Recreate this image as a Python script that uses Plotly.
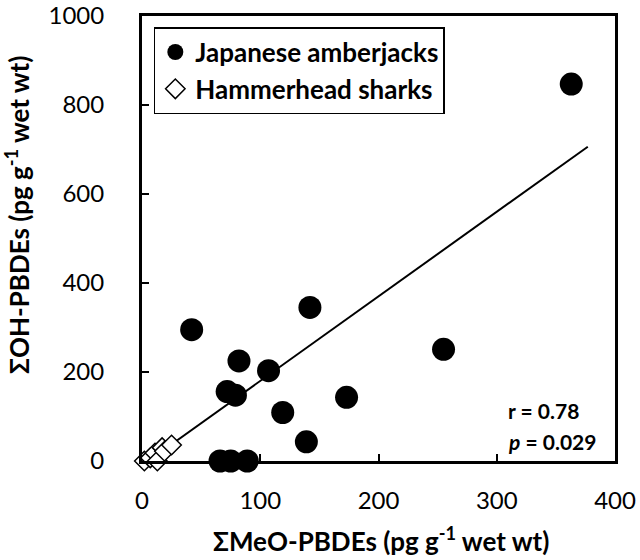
import plotly.graph_objects as go

# Japanese amberjacks
amber_x = [42, 142, 82, 107, 72, 79, 119, 139, 173, 255, 363, 66, 75, 89]
amber_y = [295, 345, 225, 203, 156, 148, 109, 43, 143, 251, 847, 0, 0, 0]

# Hammerhead sharks
shark_x = [2, 7, 11, 13, 17, 19, 25]
shark_y = [0, 7, 18, 0, 30, 22, 36]

# regression line
fit_slope = 1.90
fit_intercept = -10
fit_x = [5, 377]
fit_y = [fit_slope * v + fit_intercept for v in fit_x]

x_ticks = [0, 100, 200, 300, 400]
y_ticks = [0, 200, 400, 600, 800, 1000]

x_title = "<b>ΣMeO-PBDEs (pg g<sup>-1</sup> wet wt)</b>"
y_title = "<b>ΣOH-PBDEs (pg g<sup>-1</sup> wet wt)</b>"

FONT = "Lato"

fig = go.Figure()
fig.add_trace(go.Scatter(x=fit_x, y=fit_y, mode="lines",
                         line=dict(color="black", width=2), showlegend=False,
                         hoverinfo="skip"))
fig.add_trace(go.Scatter(x=amber_x, y=amber_y, mode="markers",
                         name="Japanese amberjacks", cliponaxis=False,
                         marker=dict(symbol="circle", size=23, color="black")))
fig.add_trace(go.Scatter(x=shark_x, y=shark_y, mode="markers",
                         name="Hammerhead sharks", cliponaxis=False,
                         marker=dict(symbol="diamond", size=15, color="white",
                                     line=dict(color="black", width=1.5))))

fig.add_annotation(x=0.770, y=0.0815, xref="paper", yref="paper",
                   text="<b>r = 0.78</b>", showarrow=False, xanchor="left",
                   font=dict(family=FONT, size=21, color="black"))
fig.add_annotation(x=0.770, y=0.011, xref="paper", yref="paper",
                   text="<b><i>p</i> = 0.029</b>", showarrow=False, xanchor="left",
                   font=dict(family=FONT, size=21, color="black"))

# axis titles
fig.add_annotation(x=0.505, y=-0.176, xref="paper", yref="paper",
                   text=x_title, showarrow=False, xanchor="center", yanchor="middle",
                   font=dict(family=FONT, size=26, color="black"))
fig.add_annotation(x=-0.262, y=0.553, xref="paper", yref="paper",
                   text=y_title, showarrow=False, textangle=-90,
                   xanchor="center", yanchor="middle",
                   font=dict(family=FONT, size=26, color="black"))

fig.update_layout(
    width=640, height=560,
    margin=dict(l=142, r=25, t=16, b=99),
    plot_bgcolor="white", paper_bgcolor="white",
    font=dict(family=FONT, color="black"),
    legend=dict(x=0.025, y=0.975, xanchor="left", yanchor="top",
                bordercolor="black", borderwidth=1.5, bgcolor="white",
                font=dict(family=FONT, size=26, color="black", weight="bold"),
                itemsizing="trace"),
    xaxis=dict(range=[0, 400], tickvals=x_ticks, ticks="inside", ticklen=7,
               tickwidth=2, tickcolor="black", showline=True, linewidth=3,
               linecolor="black", mirror=True, showgrid=False, zeroline=False,
               automargin=False,
               tickfont=dict(family=FONT, size=24, color="black"),
               ticklabelstandoff=16),
    yaxis=dict(range=[0, 1000], tickvals=y_ticks, ticks="inside", ticklen=7,
               tickwidth=2, tickcolor="black", showline=True, linewidth=3,
               linecolor="black", mirror=True, showgrid=False, zeroline=False,
               automargin=False,
               tickfont=dict(family=FONT, size=24, color="black"),
               ticklabelstandoff=30),
)
fig.write_html("out.html", config={"displayModeBar": False},
               post_script="document.body.style.margin='0';")
